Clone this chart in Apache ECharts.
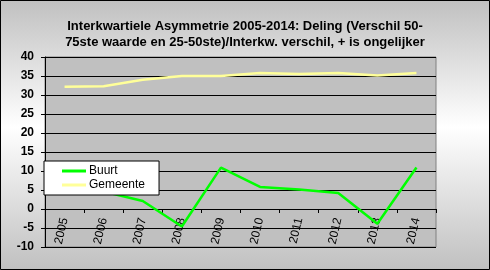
<!DOCTYPE html>
<html>
<head>
<meta charset="utf-8">
<script src="https://cdn.jsdelivr.net/npm/echarts@6/dist/echarts.min.js"></script>
<style>html,body{margin:0;padding:0;}#c{width:490px;height:270px;}</style>
</head>
<body>
<div id="c"></div>
<script>
var categories = ['2005','2006','2007','2008','2009','2010','2011','2012','2013','2014'];
var buurt = [5.0, 4.6, 2.1, -4.6, 10.9, 5.8, 5.1, 4.2, -3.9, 10.9];
var gemeente = [32.2, 32.3, 34.0, 35.0, 35.0, 35.8, 35.5, 35.8, 35.1, 35.8];
var yTicks = {min: -10, max: 40, interval: 5};
var titleText = 'Interkwartiele Asymmetrie 2005-2014: Deling (Verschil 50-\n75ste waarde en 25-50ste)/Interkw. verschil, + is ongelijker';

var W = 490, H = 270;
var gridTop = 57, gridBottom = 23;
var gridH = H - gridTop - gridBottom;
// place the category axis at value 0 (onZero equivalent)
var zeroOffset = -gridH * (0 - yTicks.min) / (yTicks.max - yTicks.min);

var chart = echarts.init(document.getElementById('c'));
chart.setOption({
  animation: false,
  backgroundColor: {type:'linear', x:0, y:0, x2:0, y2:1, colorStops:[
    {offset:0, color:'#c0c0c0'}, {offset:0.47, color:'#ffffff'}, {offset:1, color:'#c0c0c0'}]},
  graphic: [{type:'rect', shape:{x:0.5, y:0.5, width:489, height:269}, style:{fill:'none', stroke:'#000', lineWidth:1}, z:100}],
  title: {
    text: titleText, left: 'center', top: 13,
    textStyle: {fontFamily:'Liberation Sans', fontWeight:'bold', fontSize:13, color:'#000', lineHeight:16}
  },
  legend: {
    orient:'vertical', left:44, top:161,
    backgroundColor:'#fff', borderColor:'#000', borderWidth:1,
    padding:[3,14,3,18], itemGap:0, itemWidth:24, itemHeight:3, icon:'rect',
    textStyle:{fontFamily:'Liberation Sans', fontSize:12, color:'#000', padding:[0,0,0,-2], lineHeight:14},
    data:['Buurt','Gemeente']
  },
  grid: {left:45, right:54, top:gridTop, bottom:gridBottom, outerBoundsMode:'none', containLabel:false, show:true, backgroundColor:'#c0c0c0', borderColor:'#808080', borderWidth:1},
  xAxis: {
    type:'category', data:categories, boundaryGap:true, position:'bottom', offset: zeroOffset,
    axisLine:{onZero:false, lineStyle:{color:'#000', width:1}},
    axisTick:{show:true, length:4, lineStyle:{color:'#000'}},
    axisLabel:{rotate:77, margin:9, fontFamily:'Liberation Sans', fontSize:12, color:'#000', interval:0}
  },
  yAxis: {
    type:'value', min:yTicks.min, max:yTicks.max, interval:yTicks.interval,
    axisLine:{show:true, lineStyle:{color:'#000'}},
    axisTick:{show:true, length:4, lineStyle:{color:'#000'}},
    axisLabel:{margin:11, fontFamily:'Liberation Sans', fontWeight:'bold', fontSize:12, color:'#000'},
    splitLine:{show:true, lineStyle:{color:'#000', width:1}}
  },
  series: [
    {name:'Buurt', type:'line', data:buurt, symbol:'none', lineStyle:{color:'#00ff00', width:2.5}, itemStyle:{color:'#00ff00'}, z:3},
    {name:'Gemeente', type:'line', data:gemeente, symbol:'none', lineStyle:{color:'#ffff99', width:2.5}, itemStyle:{color:'#ffff99'}, z:2}
  ]
});
</script>
</body>
</html>
